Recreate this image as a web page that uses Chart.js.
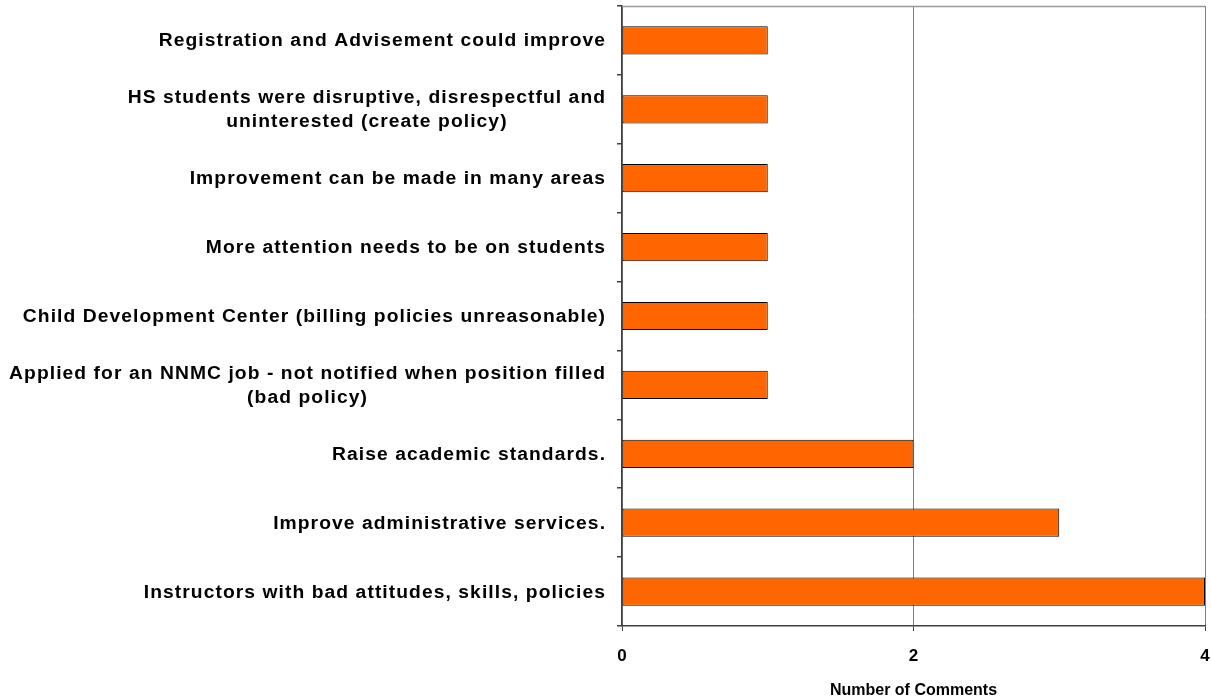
<!DOCTYPE html>
<html>
<head>
<meta charset="utf-8">
<script src="https://cdn.jsdelivr.net/npm/chart.js@4"></script>
<style>
html,body{margin:0;padding:0;background:#fff;}
#wrap{width:1211px;height:700px;position:relative;}
</style>
</head>
<body>
<div id="wrap"><canvas id="c" width="1211" height="700"></canvas></div>
<script>
const categories = [
  ["Registration and Advisement could improve"],
  ["HS students were disruptive, disrespectful and", "uninterested (create policy)"],
  ["Improvement can be made in many areas"],
  ["More attention needs to be on students"],
  ["Child Development Center (billing policies unreasonable)"],
  ["Applied for an NNMC job - not notified when position filled", "(bad policy)"],
  ["Raise academic standards."],
  ["Improve administrative services."],
  ["Instructors with bad attitudes, skills, policies"]
];
const commentCounts = [1, 1, 1, 1, 1, 1, 2, 3, 4];
const xTicks = [0, 2, 4];
const xTitle = "Number of Comments";

const FONT = "'Liberation Sans', Arial, sans-serif";

const labelPlugin = {
  id: 'labelPlugin',
  afterDraw(chart) {
    const ctx = chart.ctx;
    const y = chart.scales.y;
    const area = chart.chartArea;
    ctx.save();
    // top border
    ctx.strokeStyle = '#999999';
    ctx.lineWidth = 1.5;
    ctx.beginPath();
    ctx.moveTo(area.left, area.top + 0.5);
    ctx.lineTo(area.right, area.top + 0.5);
    ctx.stroke();
    // category labels
    ctx.fillStyle = '#000';
    ctx.font = "bold 18px " + FONT;
    const ls = 1;
    ctx.letterSpacing = ls + 'px';
    ctx.textAlign = 'center';
    ctx.textBaseline = 'middle';
    const sx = 1.07;
    const rightX = area.left - 17;
    const lineH = 24;
    categories.forEach((lines, i) => {
      const cy = y.getPixelForTick(i) + 1;
      const widths = lines.map(l => (ctx.measureText(l).width - ls) * sx);
      const maxW = Math.max(...widths);
      const cx = rightX - maxW / 2;
      const n = lines.length;
      lines.forEach((l, k) => {
        ctx.save();
        ctx.translate(cx, cy + (k - (n - 1) / 2) * lineH);
        ctx.scale(sx, 1);
        ctx.fillText(l, ls / 2, 0);
        ctx.restore();
      });
    });
    ctx.restore();
  }
};

new Chart(document.getElementById('c'), {
  type: 'bar',
  data: {
    labels: categories,
    datasets: [{
      data: commentCounts,
      backgroundColor: '#FF6600',
      borderColor: '#000000',
      borderWidth: 1,
      borderSkipped: false,
      barPercentage: 0.41,
      categoryPercentage: 1.0
    }]
  },
  options: {
    indexAxis: 'y',
    responsive: false,
    animation: false,
    devicePixelRatio: 1,
    layout: { padding: { top: 6, right: 6, left: 0, bottom: 0 } },
    plugins: { legend: { display: false }, tooltip: { enabled: false } },
    scales: {
      x: {
        min: 0, max: 4,
        afterBuildTicks(scale) { scale.ticks = xTicks.map(v => ({ value: v })); },
        afterFit(scale) { scale.height = 74; scale.paddingRight = 0; scale.paddingLeft = 0; },
        grid: { color: '#808080', lineWidth: 1, tickLength: 5, tickColor: '#404040' },
        border: { color: '#404040', width: 1.5 },
        ticks: { color: '#000', font: { family: FONT, size: 17, weight: 'bold' }, padding: 15 },
        title: { display: true, text: xTitle, color: '#000', font: { family: FONT, size: 16, weight: 'bold' }, padding: { top: 0, bottom: 0 } }
      },
      y: {
        afterFit(scale) { scale.width = 622; },
        grid: { display: true, offset: true, drawOnChartArea: false, drawTicks: true, tickLength: 5, tickColor: '#404040', lineWidth: 1.5 },
        border: { color: '#404040', width: 1.5 },
        ticks: { display: true, color: 'rgba(0,0,0,0)', font: { size: 1 }, callback: () => '' }
      }
    }
  },
  plugins: [labelPlugin]
});
</script>
</body>
</html>
